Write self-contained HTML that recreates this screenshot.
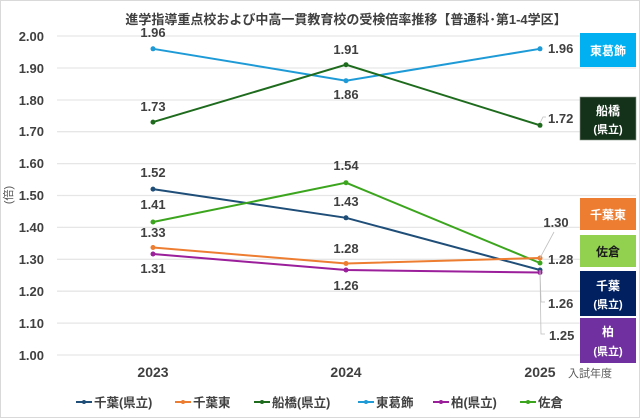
<!DOCTYPE html><html><head><meta charset="utf-8"><style>body{margin:0;background:#fff}svg{display:block}text{font-family:"Liberation Sans","Noto Sans CJK JP",sans-serif}</style></head><body>
<svg width="640" height="418" viewBox="0 0 640 418">
<rect x="0.5" y="0.5" width="639" height="417" fill="#fff" stroke="#d9d9d9"/>
<text x="346" y="24" font-size="13" font-weight="bold" fill="#404040" text-anchor="middle">進学指導重点校および中高一貫教育校の受検倍率推移【普通科･第1-4学区】</text>
<g stroke="#e6e6e6" stroke-width="1.3">
<line x1="57" x2="636" y1="36" y2="36"/><line x1="57" x2="636" y1="68" y2="68"/><line x1="57" x2="636" y1="100" y2="100"/><line x1="57" x2="636" y1="131.7" y2="131.7"/><line x1="57" x2="636" y1="163.6" y2="163.6"/><line x1="57" x2="636" y1="195.5" y2="195.5"/><line x1="57" x2="636" y1="227.4" y2="227.4"/><line x1="57" x2="636" y1="259.3" y2="259.3"/><line x1="57" x2="636" y1="291.2" y2="291.2"/><line x1="57" x2="636" y1="323.1" y2="323.1"/><line x1="57" x2="636" y1="355" y2="355"/>
</g>
<g font-size="13" font-weight="bold" fill="#404040" text-anchor="end">
<text x="44" y="41">2.00</text><text x="44" y="73">1.90</text><text x="44" y="105">1.80</text><text x="44" y="136">1.70</text><text x="44" y="168">1.60</text><text x="44" y="200">1.50</text><text x="44" y="232">1.40</text><text x="44" y="264">1.30</text><text x="44" y="296">1.20</text><text x="44" y="328">1.10</text><text x="44" y="360">1.00</text>
</g>
<text transform="translate(12,195) rotate(-90)" font-size="11" fill="#595959" text-anchor="middle">(倍)</text>
<g font-size="14" font-weight="bold" fill="#404040" text-anchor="middle">
<text x="153" y="377">2023</text><text x="346" y="377">2024</text><text x="540" y="377">2025</text></g>
<text x="568" y="377" font-size="11" fill="#595959">入試年度</text>
<g fill="none" stroke-width="2">
<polyline stroke="#1e9bd7" points="153,48.8 346,80.7 540,48.8"/>
<polyline stroke="#1e6b1e" points="153,122.1 346,64.7 540,125.3"/>
<polyline stroke="#1f4e79" points="153,189.1 346,217.8 540,270"/>
<polyline stroke="#3ca51e" points="153,222 346,182.7 540,263"/>
<polyline stroke="#ed7d31" points="153,247.5 346,263.5 540,258"/>
<polyline stroke="#9b1e9b" points="153,254 346,270 540,272.5"/>
</g>
<g>
<g fill="#1e9bd7"><circle cx="153" cy="48.8" r="2.5"/><circle cx="346" cy="80.7" r="2.5"/><circle cx="540" cy="48.8" r="2.5"/></g>
<g fill="#1e6b1e"><circle cx="153" cy="122.1" r="2.5"/><circle cx="346" cy="64.7" r="2.5"/><circle cx="540" cy="125.3" r="2.5"/></g>
<g fill="#1f4e79"><circle cx="153" cy="189.1" r="2.5"/><circle cx="346" cy="217.8" r="2.5"/><circle cx="540" cy="270" r="2.5"/></g>
<g fill="#3ca51e"><circle cx="153" cy="222" r="2.5"/><circle cx="346" cy="182.7" r="2.5"/><circle cx="540" cy="263" r="2.5"/></g>
<g fill="#ed7d31"><circle cx="153" cy="247.5" r="2.5"/><circle cx="346" cy="263.5" r="2.5"/><circle cx="540" cy="258" r="2.5"/></g>
<g fill="#9b1e9b"><circle cx="153" cy="254" r="2.5"/><circle cx="346" cy="270" r="2.5"/><circle cx="540" cy="272.5" r="2.5"/></g>
</g>
<g font-size="13" font-weight="bold" fill="#404040" text-anchor="middle">
<text x="153" y="37">1.96</text><text x="153" y="111">1.73</text><text x="153" y="177">1.52</text><text x="153" y="209">1.41</text><text x="153" y="237">1.33</text><text x="153" y="273">1.31</text>
<text x="346" y="54">1.91</text><text x="346" y="99">1.86</text><text x="346" y="170">1.54</text><text x="346" y="206">1.43</text><text x="346" y="253">1.28</text><text x="346" y="290">1.26</text>
<text x="556" y="227">1.30</text>
</g>
<g font-size="13" font-weight="bold" fill="#404040">
<text x="548" y="53">1.96</text><text x="548" y="123">1.72</text><text x="548" y="264">1.28</text><text x="548" y="308">1.26</text><text x="549" y="340">1.25</text>
</g>
<g stroke="#bfbfbf" fill="none" stroke-width="0.8">
<polyline points="540,123 543,117 546,117"/>
<polyline points="540,258 554,232"/>
<polyline points="540,270 541,302 545,302"/>
<polyline points="540,272.5 541,334 545,334"/>
</g>
<g font-size="12" font-weight="bold" fill="#fff" text-anchor="middle">
<rect x="580" y="33" width="56" height="34" fill="#00b0f0"/><text x="608" y="55">東葛飾</text>
<rect x="580" y="97" width="56" height="43" fill="#14311a" stroke="#8a9a8a" stroke-width="0.6"/><text x="608" y="115">船橋</text><text x="608" y="133" font-size="11">(県立)</text>
<rect x="580" y="198" width="56" height="32" fill="#ed7d31"/><text x="608" y="219">千葉東</text>
<rect x="580" y="235" width="56" height="32" fill="#92d050"/><text x="608" y="256" fill="#1a1a1a">佐倉</text>
<rect x="580" y="271" width="56" height="45" fill="#002060"/><text x="608" y="290">千葉</text><text x="608" y="308" font-size="11">(県立)</text>
<rect x="580" y="318" width="56" height="45" fill="#7030a0"/><text x="608" y="336">柏</text><text x="608" y="355" font-size="11">(県立)</text>
</g>
<g font-size="12.5" font-weight="bold" fill="#404040">
<line x1="76" x2="92" y1="402" y2="402" stroke="#1f4e79" stroke-width="2"/><circle cx="84" cy="402" r="2" fill="#1f4e79"/><text x="94" y="407">千葉(県立)</text>
<line x1="175" x2="191" y1="402" y2="402" stroke="#ed7d31" stroke-width="2"/><circle cx="183" cy="402" r="2" fill="#ed7d31"/><text x="193" y="407">千葉東</text>
<line x1="254" x2="270" y1="402" y2="402" stroke="#1e6b1e" stroke-width="2"/><circle cx="262" cy="402" r="2" fill="#1e6b1e"/><text x="272" y="407">船橋(県立)</text>
<line x1="358" x2="374" y1="402" y2="402" stroke="#1e9bd7" stroke-width="2"/><circle cx="366" cy="402" r="2" fill="#1e9bd7"/><text x="376" y="407">東葛飾</text>
<line x1="433" x2="449" y1="402" y2="402" stroke="#9b1e9b" stroke-width="2"/><circle cx="441" cy="402" r="2" fill="#9b1e9b"/><text x="451" y="407">柏(県立)</text>
<line x1="520" x2="536" y1="402" y2="402" stroke="#3ca51e" stroke-width="2"/><circle cx="528" cy="402" r="2" fill="#3ca51e"/><text x="538" y="407">佐倉</text>
</g>
</svg></body></html>
